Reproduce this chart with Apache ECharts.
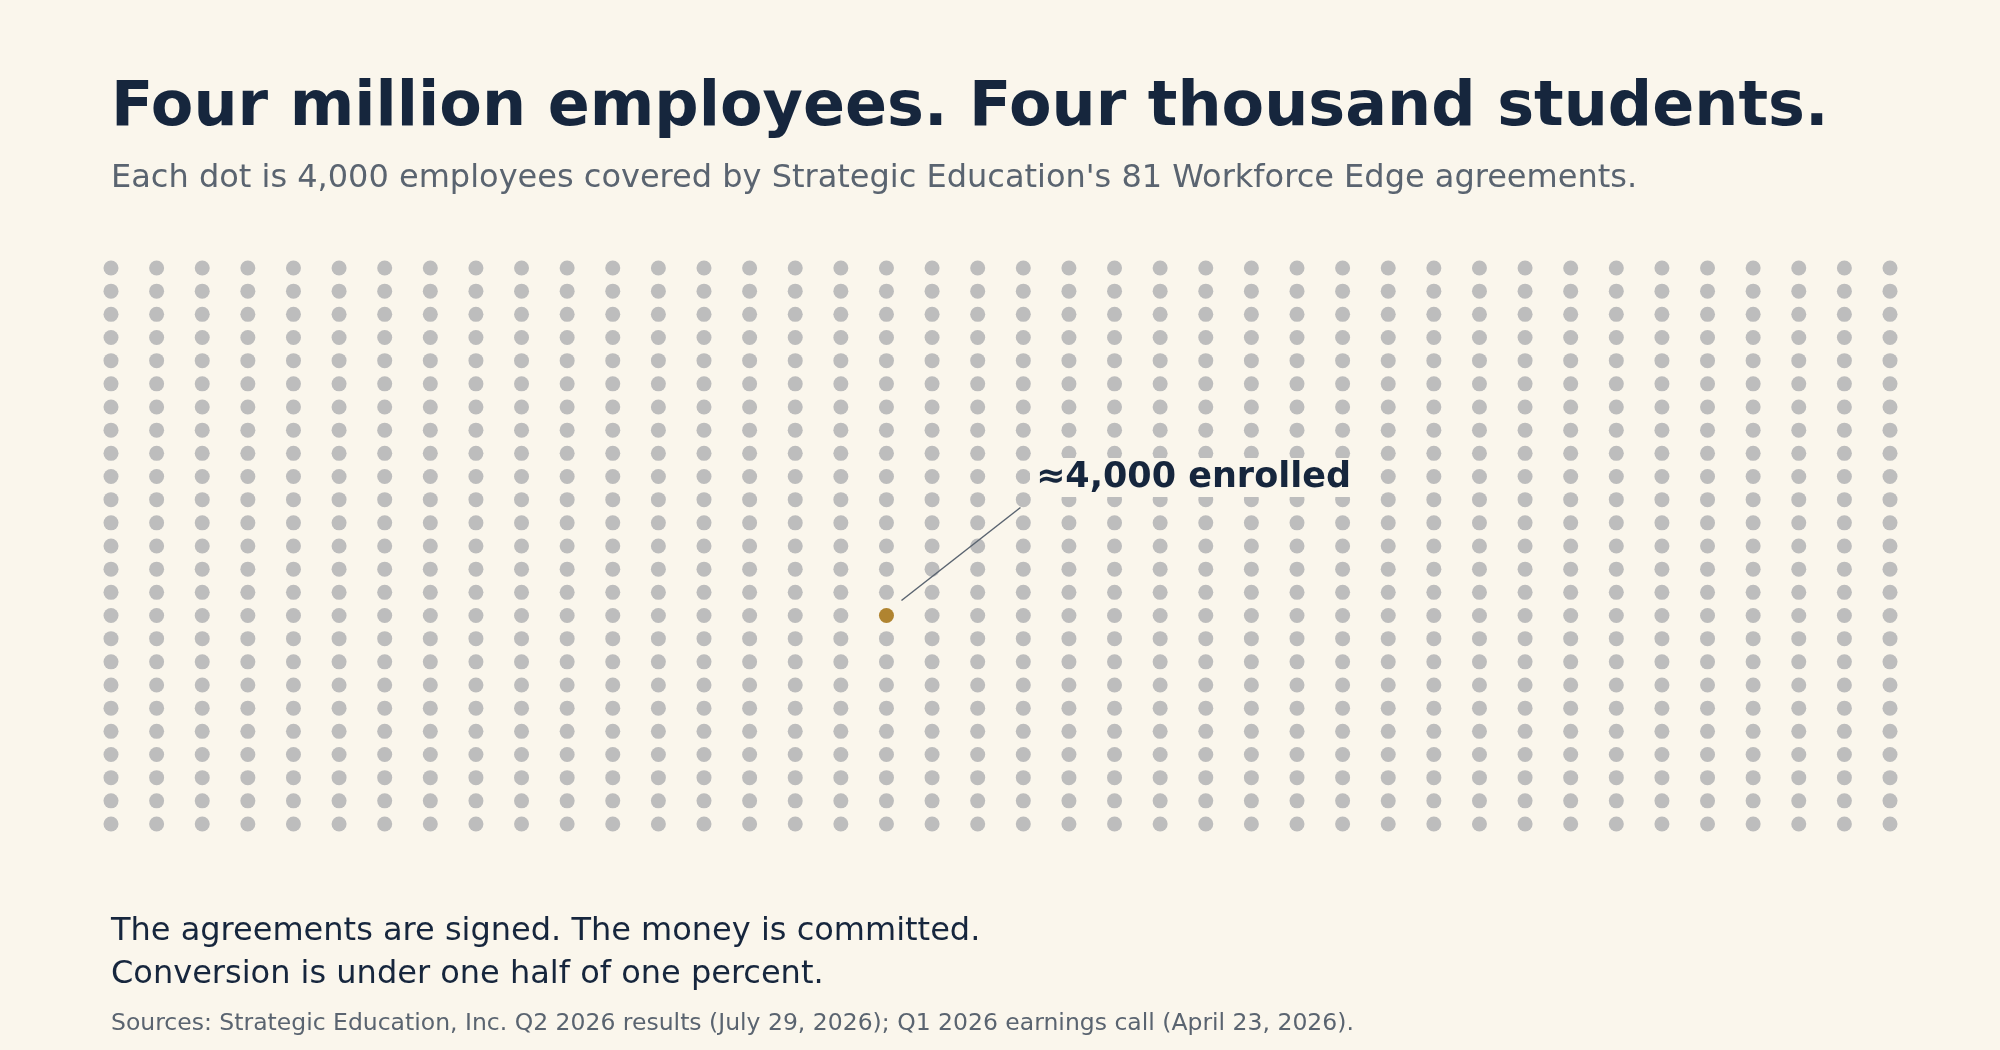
<!DOCTYPE html>
<html><head><meta charset="utf-8">
<script src="https://cdn.jsdelivr.net/npm/echarts@6/dist/echarts.min.js"></script>
<style>html,body{margin:0;background:#faf6ec}#c{width:2000px;height:1050px}</style>
</head><body><div id="c"></div>
<script>
const columns = 40;
const rows = 25;
const highlightCell = [17, 15];
const titleText = "Four million employees. Four thousand students.";
const subtitleText = "Each dot is 4,000 employees covered by Strategic Education's 81 Workforce Edge agreements.";
const annotationText = "≈4,000 enrolled";
const footerLines = ["The agreements are signed. The money is committed.", "Conversion is under one half of one percent."];
const sourceText = "Sources: Strategic Education, Inc. Q2 2026 results (July 29, 2026); Q1 2026 earnings call (April 23, 2026).";

const grayDots = [], goldDots = [];
for (let c = 0; c < columns; c++) for (let r = 0; r < rows; r++) {
  if (c === highlightCell[0] && r === highlightCell[1]) goldDots.push([c, r]); else grayDots.push([c, r]);
}
const F = 'DejaVu Sans';
const chart = echarts.init(document.getElementById('c'));
chart.setOption({
  backgroundColor: '#faf6ec',
  animation: false,
  grid: {left: 111, right: 110, top: 268, bottom: 226},
  xAxis: {type: 'value', min: 0, max: columns - 1, show: false},
  yAxis: {type: 'value', min: 0, max: rows - 1, inverse: true, show: false},
  series: [
    {type: 'scatter', data: grayDots, symbolSize: 15, itemStyle: {color: '#bdbdbd', opacity: 1}, silent: true},
    {type: 'scatter', data: goldDots, symbolSize: 15, itemStyle: {color: '#b08430', opacity: 1}, silent: true}
  ]
});
const p = chart.convertToPixel({gridIndex: 0}, highlightCell);
chart.setOption({graphic: [
  {type: 'text', left: 111, top: 116 - 38, style: {text: titleText, font: 'bold 62px ' + F, fill: '#16263d'}},
  {type: 'text', left: 111, top: 182 - 19, style: {text: subtitleText, font: '32px ' + F, fill: '#5a6470'}},
  {type: 'line', z: 10, shape: {x1: p[0] + 15, y1: p[1] - 15, x2: p[0] + 134, y2: p[1] - 108}, style: {stroke: '#5a6470', lineWidth: 1.5}},
  {type: 'text', z: 10, left: 1030, top: 482 - 24, style: {text: annotationText, font: 'bold 35px ' + F, fill: '#16263d', backgroundColor: '#faf6ec', padding: [2, 6, 2, 6]}},
  {type: 'text', left: 111, top: 935 - 19, style: {text: footerLines[0], font: '32px ' + F, fill: '#16263d'}},
  {type: 'text', left: 111, top: 978 - 19, style: {text: footerLines[1], font: '32px ' + F, fill: '#16263d'}},
  {type: 'text', left: 111, top: 1026 - 14, style: {text: sourceText, font: '23.5px ' + F, fill: '#5a6470'}}
]});
</script></body></html>
